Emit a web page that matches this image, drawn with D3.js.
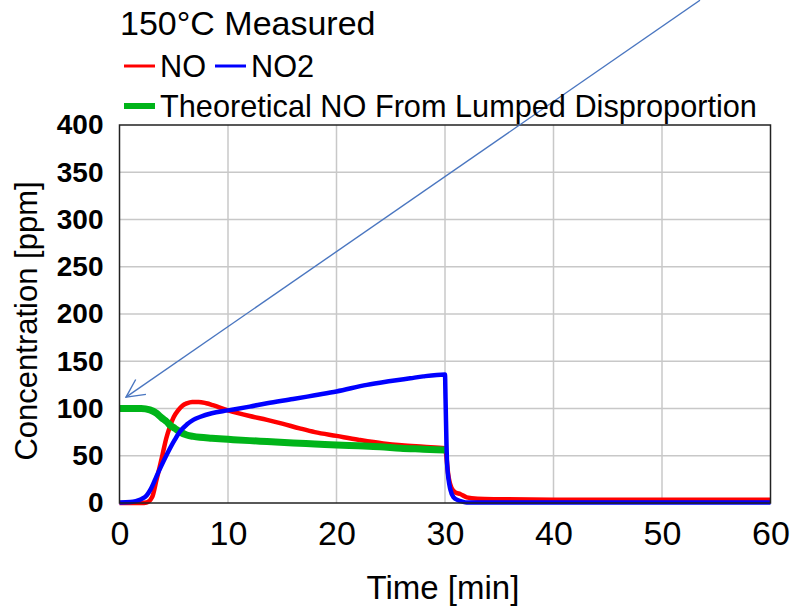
<!DOCTYPE html>
<html>
<head>
<meta charset="utf-8">
<script src="https://cdn.jsdelivr.net/npm/d3@7"></script>
<style>
  body { margin: 0; background: #fff; }
  text { font-family: "Liberation Sans", Arial, sans-serif; fill: #000; }
</style>
</head>
<body>
<div id="chart"></div>
<script>
// data
const timeNO = [0, 1, 2, 2.5, 3.0, 3.4, 3.7, 4.0, 4.3, 4.65, 5.0, 5.4, 5.8, 6.2, 6.7, 7.3, 8.0, 8.6, 10, 12, 13.6, 15, 16.6, 18, 20, 22, 24.3, 26, 28, 30, 30.1, 30.3, 30.6, 31, 31.4, 32, 33, 35, 40, 45, 50, 55, 60];
const NO = [0, 0, 0, 0.5, 6, 24, 38, 53, 68, 81, 91, 98, 103, 105.5, 107, 107, 105.5, 103.5, 98, 92, 88, 84, 79, 75, 71, 67, 63, 61, 59.5, 58, 52, 30, 16, 11, 9.5, 6, 4.5, 4, 3.5, 3.5, 3.5, 3.5, 3.5];

const timeNO2 = [0, 1, 1.5, 2.0, 2.5, 2.8, 3.1, 3.4, 3.8, 4.35, 5.1, 5.6, 6.2, 6.8, 7.4, 8.5, 10, 12, 13.6, 16, 18, 20, 22.8, 25, 26.8, 28, 30, 30.05, 30.2, 30.5, 30.8, 31.2, 31.6, 32, 35, 40, 50, 60];
const NO2 = [0.5, 1, 2, 4, 8, 13, 20, 28, 38, 51, 67, 76, 83, 88, 91, 95, 98, 102, 105.5, 110, 114, 118, 125, 129, 132, 134, 136, 110, 40, 14, 6, 3, 1.5, 0.5, 0.5, 0.5, 0.5, 0.5];

const timeTheo = [0, 1, 2, 2.8, 3.4, 3.9, 4.35, 4.7, 5.1, 5.6, 6.2, 6.8, 7.4, 8.5, 10, 12, 13.6, 16, 18, 20, 22, 24, 25.9, 28, 30];
const theo = [100, 100, 100, 98.5, 95, 90, 86, 82, 79, 75, 72, 70.5, 69.5, 68.5, 67.4, 66, 65, 63.5, 62.5, 61.4, 60.5, 59.5, 58, 57, 56];

const xTicks = [0, 10, 20, 30, 40, 50, 60];
const yTicks = [0, 50, 100, 150, 200, 250, 300, 350, 400];

// annotation arrow (data coords): from off-chart down to the start of the green curve
const arrowFrom = [53.5, 532];
const arrowTo = [0.6, 112];

const W = 792, H = 612;
const margin = {top: 125, right: 21.5, bottom: 109, left: 119.5};
const width = W - margin.left - margin.right,
      height = H - margin.top - margin.bottom;

const svg = d3.select("#chart").append("svg")
    .attr("width", W)
    .attr("height", H);

const g = svg.append("g")
    .attr("transform", "translate(" + margin.left + "," + margin.top + ")");

const x = d3.scaleLinear().domain([0, 60]).range([0, width]);
const y = d3.scaleLinear().domain([0, 400]).range([height, 0]);

// grid
g.append("g")
    .selectAll("line")
    .data(xTicks.slice(1, -1))
    .join("line")
    .attr("x1", d => x(d)).attr("x2", d => x(d))
    .attr("y1", 0).attr("y2", height)
    .attr("stroke", "#c8c8c8").attr("stroke-width", 1.5);
g.append("g")
    .selectAll("line")
    .data(yTicks.slice(1, -1))
    .join("line")
    .attr("x1", 0).attr("x2", width)
    .attr("y1", d => y(d)).attr("y2", d => y(d))
    .attr("stroke", "#c8c8c8").attr("stroke-width", 1.5);

// axes (labels only, no tick marks)
const xAxis = g.append("g")
    .attr("transform", "translate(0," + height + ")")
    .call(d3.axisBottom(x).tickValues(xTicks).tickSize(0).tickPadding(18));
xAxis.select(".domain").remove();
xAxis.selectAll("text")
    .style("font-family", '"Liberation Sans", Arial, sans-serif')
    .style("font-size", "34px")
    .attr("fill", "#000");

const yAxis = g.append("g")
    .call(d3.axisLeft(y).tickValues(yTicks).tickSize(0).tickPadding(16));
yAxis.select(".domain").remove();
yAxis.selectAll("text")
    .style("font-family", '"Liberation Sans", Arial, sans-serif')
    .style("font-size", "28px")
    .style("font-weight", "bold")
    .attr("fill", "#111");

// series
const line = (xs, ys) => d3.line()
    .x((d, i) => x(xs[i]))
    .y(d => y(d))
    .curve(d3.curveMonotoneX)(ys);

g.append("path")
    .attr("d", line(timeNO, NO))
    .attr("fill", "none").attr("stroke", "#ff0000")
    .attr("stroke-width", 4.5).attr("stroke-linejoin", "round");
g.append("path")
    .attr("d", line(timeTheo, theo))
    .attr("fill", "none").attr("stroke", "#00b419")
    .attr("stroke-width", 7).attr("stroke-linejoin", "round");
g.append("path")
    .attr("d", line(timeNO2, NO2))
    .attr("fill", "none").attr("stroke", "#0000ff")
    .attr("stroke-width", 4.5).attr("stroke-linejoin", "round");

// frame
g.append("rect")
    .attr("width", width).attr("height", height)
    .attr("fill", "none").attr("stroke", "#222").attr("stroke-width", 1.5);

// axis titles
svg.append("text")
    .attr("x", margin.left + width / 2 - 2)
    .attr("y", 599)
    .attr("text-anchor", "middle")
    .style("font-size", "33px")
    .text("Time [min]");
svg.append("text")
    .attr("transform", "translate(37," + 321 + ") rotate(-90)")
    .attr("text-anchor", "middle")
    .style("font-size", "31px")
    .text("Concentration [ppm]");

// title + legend
svg.append("text").attr("x", 120).attr("y", 35)
    .style("font-size", "34px").text("150°C Measured");

const legend = [
  {label: "NO", color: "#ff0000", w: 3, x: 124, y: 66},
  {label: "NO2", color: "#0000ff", w: 3, x: 215, y: 66},
  {label: "Theoretical NO From Lumped Disproportion", color: "#00b419", w: 6, x: 124, y: 106}
];
legend.forEach(d => {
  svg.append("line")
      .attr("x1", d.x).attr("x2", d.x + 31)
      .attr("y1", d.y).attr("y2", d.y)
      .attr("stroke", d.color).attr("stroke-width", d.w);
  svg.append("text")
      .attr("x", d.x + 36).attr("y", d.y + 11)
      .style("font-size", "30.7px")
      .text(d.label);
});

// arrow annotation
svg.append("defs").append("marker")
    .attr("id", "arrowhead")
    .attr("viewBox", "0 0 20 20")
    .attr("refX", 19).attr("refY", 10)
    .attr("markerWidth", 20).attr("markerHeight", 20)
    .attr("markerUnits", "userSpaceOnUse")
    .attr("orient", "auto")
  .append("path")
    .attr("d", "M1,1 L19,10 L1,19")
    .attr("fill", "none").attr("stroke", "#4a76c0").attr("stroke-width", 1.4);

g.append("line")
    .attr("x1", x(arrowFrom[0])).attr("y1", y(arrowFrom[1]))
    .attr("x2", x(arrowTo[0])).attr("y2", y(arrowTo[1]))
    .attr("stroke", "#4a76c0").attr("stroke-width", 1.4)
    .attr("marker-end", "url(#arrowhead)");
</script>
</body>
</html>
